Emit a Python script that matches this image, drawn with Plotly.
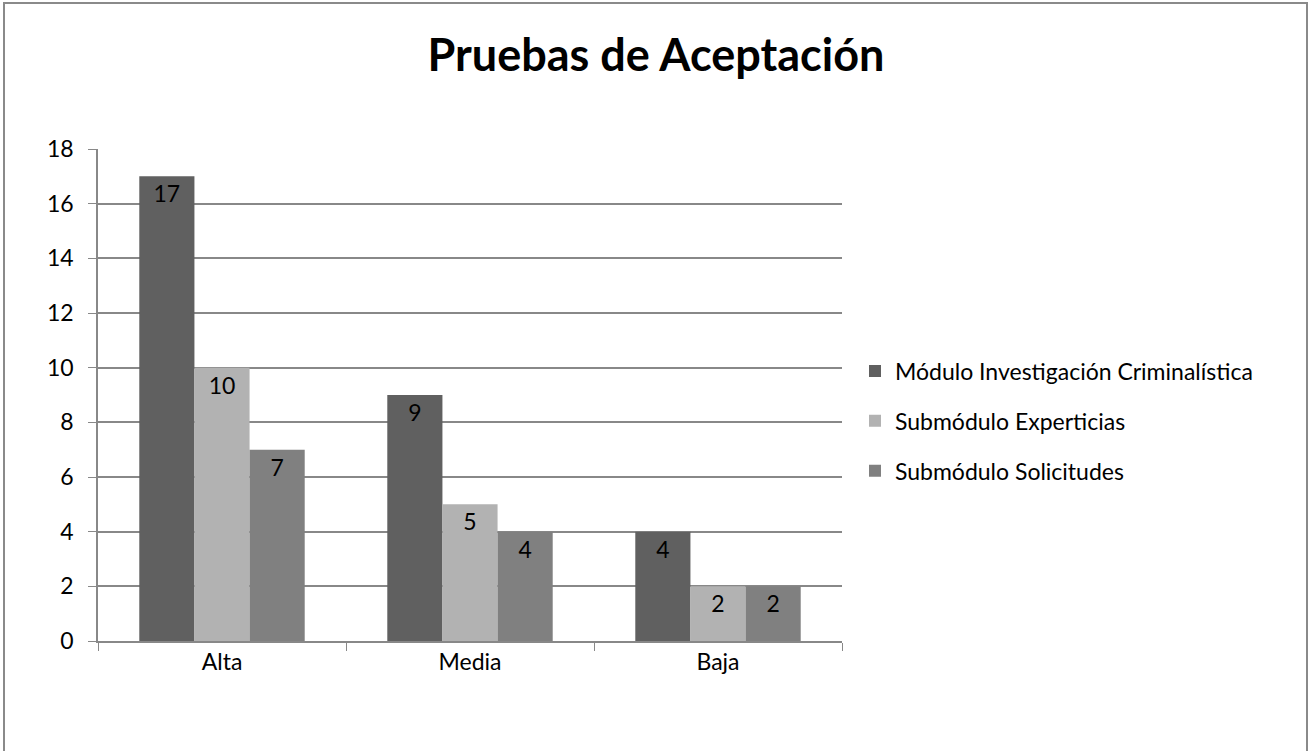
import plotly.graph_objects as go

categories = ["Alta", "Media", "Baja"]
series_names = ["Módulo Investigación Criminalística", "Submódulo Experticias", "Submódulo Solicitudes"]
modulo_vals = [17, 9, 4]
experticias_vals = [10, 5, 2]
solicitudes_vals = [7, 4, 2]
colors = ["#606060", "#b2b2b2", "#808080"]

FONT = "Lato"
FS = 23

fig = go.Figure()
for i, (name, vals) in enumerate(zip(series_names, [modulo_vals, experticias_vals, solicitudes_vals])):
    fig.add_trace(go.Bar(
        x=categories, y=vals, name=name, legendgroup=f"g{i}",
        marker=dict(color=colors[i], line=dict(width=0)),
        text=vals, textposition="inside", insidetextanchor="end",
        textfont=dict(family=FONT, size=FS, color="black"),
        textangle=0,
    ))

fig.update_layout(
    width=1312, height=751,
    barmode="group", bargap=0.333, bargroupgap=0,
    paper_bgcolor="white", plot_bgcolor="white",
    margin=dict(l=98, r=470, t=149, b=110),
    font=dict(family=FONT, size=FS, color="black"),
    title=dict(text="<b>Pruebas de Aceptación</b>", x=0.5, xanchor="center",
               y=1 - 55 / 751, yanchor="middle",
               font=dict(family=FONT, size=45, color="black")),
    legend=dict(x=(855 - 98) / 744, xanchor="left", y=(641 - 421) / 492, yanchor="middle",
                tracegroupgap=17, font=dict(family=FONT, size=FS)),
    uniformtext=dict(mode="show", minsize=10),
    showlegend=True,
)
fig.update_xaxes(showline=True, linecolor="#888888", linewidth=1.5,
                 ticks="outside", ticklen=8, tickcolor="#888888", tickson="boundaries",
                 showgrid=False, tickfont=dict(size=FS))
fig.update_yaxes(range=[0, 18], dtick=2, showline=True, linecolor="#888888", linewidth=1.5,
                 ticks="outside", ticklen=8, tickcolor="#888888", ticklabelstandoff=10,
                 gridcolor="#888888", gridwidth=1.5, zeroline=False, tickfont=dict(size=FS))

fig.add_shape(type="rect", xref="paper", yref="paper",
              x0=(4 - 98) / 744, x1=(1307 - 98) / 744,
              y0=(641 - 780) / 492, y1=(641 - 3) / 492,
              line=dict(color="#8a8a8a", width=2), layer="below")

fig.write_html("out.html", config={"displayModeBar": False},
               post_script="document.body.style.margin='0';")
